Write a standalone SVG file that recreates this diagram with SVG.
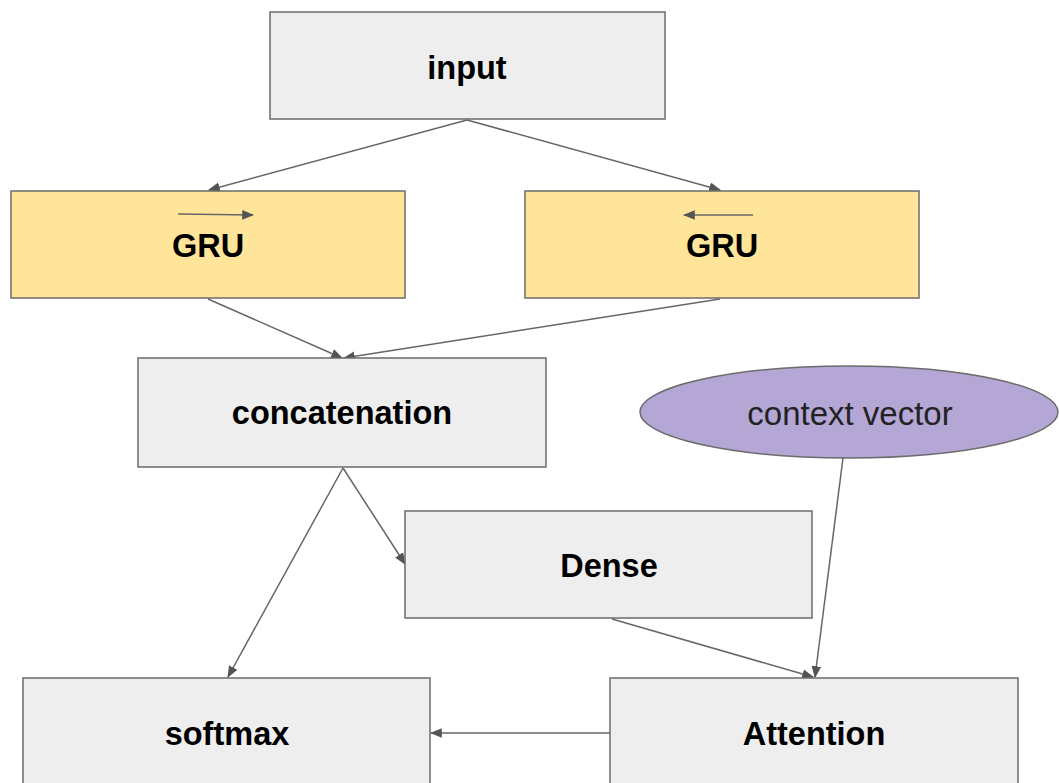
<svg xmlns="http://www.w3.org/2000/svg" width="1059" height="783" viewBox="0 0 1059 783">
<style>
.box{fill:#eeeeee;stroke:#6b6b6b;stroke-width:1.5}
.gru{fill:#ffe599;stroke:#6b6b6b;stroke-width:1.5}
.t{font-family:"Liberation Sans",Arial,sans-serif;font-size:32.5px;font-weight:bold;fill:#000;text-anchor:middle;dominant-baseline:central}
.tr{font-family:"Liberation Sans",Arial,sans-serif;font-size:33px;fill:#222;text-anchor:middle;dominant-baseline:central}
.c{stroke:#666;stroke-width:1.5;fill:none;marker-end:url(#ah)}
</style>
<defs>
<marker id="ah" viewBox="0 0 10 10" refX="9" refY="5" markerWidth="12" markerHeight="12" markerUnits="userSpaceOnUse" orient="auto">
<path d="M0,1 L10,5 L0,9 z" fill="#555"/>
</marker>
</defs>
<rect width="1059" height="783" fill="#fff"/>
<g id="connectors">
<line class="c" x1="467" y1="120" x2="209" y2="190"/>
<line class="c" x1="467" y1="120" x2="720" y2="190"/>
<line class="c" x1="208" y1="299" x2="342" y2="358"/>
<line class="c" x1="720" y1="299" x2="344" y2="358"/>
<line class="c" x1="343" y1="468" x2="228" y2="677"/>
<line class="c" x1="343" y1="468" x2="405" y2="564"/>
<line class="c" x1="612" y1="619" x2="813" y2="677"/>
<line class="c" x1="843" y1="458" x2="815" y2="677"/>
<line class="c" x1="610" y1="733" x2="431" y2="733"/>
</g>
<g id="input"><rect class="box" x="270" y="12" width="395" height="107"/><text class="t" x="467" y="68">input</text></g>
<g id="gru-forward"><rect class="gru" x="11" y="191" width="394" height="107"/><line class="c" x1="178" y1="214" x2="253" y2="215"/><text class="t" x="208" y="246">GRU</text></g>
<g id="gru-backward"><rect class="gru" x="525" y="191" width="394" height="107"/><line class="c" x1="753" y1="215" x2="684" y2="215"/><text class="t" x="722" y="246">GRU</text></g>
<g id="concatenation"><rect class="box" x="138" y="358" width="408" height="109"/><text class="t" x="342" y="413">concatenation</text></g>
<g id="context-vector"><ellipse cx="849" cy="412" rx="209" ry="46" fill="#b4a7d6" stroke="#6b6b6b" stroke-width="1.5"/><text class="tr" x="850" y="413">context vector</text></g>
<g id="dense"><rect class="box" x="405" y="511" width="407" height="107"/><text class="t" x="609" y="566">Dense</text></g>
<g id="softmax"><rect class="box" x="23" y="678" width="407" height="120"/><text class="t" x="227" y="734">softmax</text></g>
<g id="attention"><rect class="box" x="610" y="678" width="408" height="120"/><text class="t" x="814" y="734">Attention</text></g>
</svg>
